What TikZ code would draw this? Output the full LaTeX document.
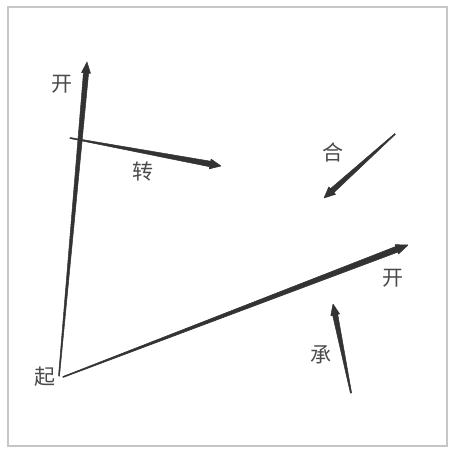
\documentclass[tikz,border=0pt]{standalone}
\usepackage{fontspec}
\newfontfamily\cjk{Noto Sans CJK SC}
\usetikzlibrary{calc}
\definecolor{arrcol}{HTML}{333333}
\definecolor{txtcol}{HTML}{4A4A4A}
\tikzset{
  lbl/.style={font=\cjk\fontsize{21}{21}\selectfont, text=txtcol, inner sep=0pt},
  arr/.style={fill=arrcol, draw=arrcol, line width=0.5pt, line join=round},
  frame/.style={draw=gray!45, line width=1.2pt}
}
% tapered arrow: #1 tail, #2 tip, #3 tail half-width, #4 shaft end half-width, #5 head length, #6 head half-width
\newcommand{\taperarrow}[6]{%
  \coordinate (hb) at ($(#2)!#5!(#1)$);
  \coordinate (hm) at ($(#2)!#5*0.75!(#1)$);
  \path[arr] ($(#1)!#3!90:(#2)$) -- ($(hb)!#4!90:(#2)$) -- ($(hb)!#6!90:(#2)$) -- (hm) -- ($(hb)!#6!90:(#2)$) -- (#2) -- ($(hb)!#6!-90:(#2)$) -- (hm) -- ($(hb)!#6!-90:(#2)$) -- ($(hb)!#4!-90:(#2)$) -- ($(#1)!#3!-90:(#2)$) -- cycle;
}
\begin{document}
\begin{tikzpicture}[x=1pt,y=-1pt]
\useasboundingbox (0,0) rectangle (449,449);
\fill[white] (0,0) rectangle (449,449);
\draw[frame] (8,7) rectangle (447,446);
% labels
\node[lbl] (qi) at (45,377) {起};
\node[lbl] (kai1) at (62,84) {开};
\node[lbl] (zhuan) at (143,172) {转};
\node[lbl] (he) at (333,152) {合};
\node[lbl] (kai2) at (393,278) {开};
\node[lbl] (cheng) at (321,355) {承};
% endpoints
\coordinate (a1s) at (59,376);
\coordinate (a1e) at (87,62);
\coordinate (a2s) at (70,138);
\coordinate (a2e) at (221,166);
\coordinate (a3s) at (395,134);
\coordinate (a3e) at (324,198);
\coordinate (a4s) at (63,377);
\coordinate (a4e) at (408,245);
\coordinate (a5s) at (351,393);
\coordinate (a5e) at (333,304);
% arrows
\taperarrow{a1s}{a1e}{0.5pt}{2.6pt}{11pt}{4.5pt}
\taperarrow{a2s}{a2e}{0.5pt}{2.8pt}{11pt}{5pt}
\taperarrow{a3s}{a3e}{0.5pt}{2.6pt}{11pt}{5pt}
\taperarrow{a4s}{a4e}{0.5pt}{3pt}{12pt}{5pt}
\taperarrow{a5s}{a5e}{0.6pt}{2.6pt}{11pt}{4.5pt}
\end{tikzpicture}
\end{document}
